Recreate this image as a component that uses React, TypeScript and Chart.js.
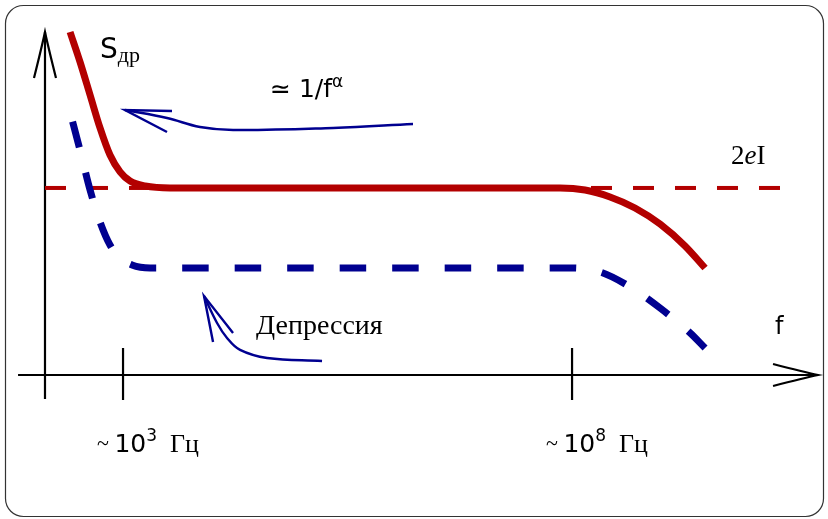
import React, { useEffect, useRef } from "react";
import { Chart, registerables } from "chart.js";

Chart.register(...registerables);

// x: log10(f / Hz), y: noise spectral density in units of the shot-noise level 2eI
const redCurveX = [2.41, 2.521, 2.633, 2.744, 2.855, 2.967, 3.078, 3.245, 3.523, 7.866, 8.145, 8.423, 8.701, 8.98, 9.258, 9.481];
const redCurveY = [1.834, 1.674, 1.497, 1.321, 1.176, 1.086, 1.037, 1.011, 1.0, 1.0, 0.989, 0.952, 0.893, 0.807, 0.69, 0.572];

const blueCurveX = [2.41, 2.521, 2.633, 2.744, 2.855, 2.967, 3.1, 3.301, 7.978, 8.312, 8.646, 8.98, 9.314, 9.481];
const blueCurveY = [1.406, 1.203, 0.989, 0.818, 0.695, 0.626, 0.588, 0.572, 0.572, 0.551, 0.471, 0.358, 0.225, 0.144];

const shotNoiseX = [2.131, 10.35];
const shotNoiseY = [1.0, 1.0];

const flickerArrowX = [6.229, 5.339, 4.225, 3.857, 3.49, 3.022];
const flickerArrowY = [1.342, 1.321, 1.31, 1.326, 1.374, 1.417];

const depressionArrowX = [5.216, 4.604, 4.303, 4.158, 4.047, 3.902];
const depressionArrowY = [0.075, 0.091, 0.134, 0.198, 0.278, 0.422];

const tickDecades = [3, 8];
const tickLabels = ["3", "8"];

const axisOriginX = 2.131;
const xAxisRange = [1.831, 10.739];
const yAxisRange = [-0.128, 1.834];

const RED = "#b30000";
const BLUE = "#000090";

const pts = (xs: number[], ys: number[]) => xs.map((x, i) => ({ x, y: ys[i] }));

type Run = { text: string; font: string; dy?: number };

function drawRuns(ctx: CanvasRenderingContext2D, x: number, y: number, runs: Run[]) {
  let cx = x;
  for (const r of runs) {
    ctx.font = r.font;
    ctx.fillText(r.text, cx, y + (r.dy || 0));
    cx += ctx.measureText(r.text).width;
  }
  return cx;
}

const SANS = '"DejaVu Sans", sans-serif';
const SERIF = '"Liberation Serif", serif';

const schematicPlugin = {
  id: "schematic",
  beforeDraw(chart: any) {
    const ctx = chart.ctx as CanvasRenderingContext2D;
    ctx.save();
    ctx.fillStyle = "#ffffff";
    ctx.fillRect(0, 0, chart.width, chart.height);
    ctx.strokeStyle = "#333";
    ctx.lineWidth = 1.2;
    ctx.beginPath();
    (ctx as any).roundRect(5.5, 5.5, 818, 511, 18);
    ctx.stroke();

    const xs = chart.scales.x;
    const ys = chart.scales.y;
    const X = (v: number) => xs.getPixelForValue(v);
    const Y = (v: number) => ys.getPixelForValue(v);

    ctx.strokeStyle = "#000";
    ctx.lineWidth = 2.2;
    ctx.lineCap = "butt";
    // y axis
    const ox = X(axisOriginX);
    const yTop = Y(yAxisRange[1]);
    ctx.beginPath();
    ctx.moveTo(ox, Y(yAxisRange[0]));
    ctx.lineTo(ox, yTop);
    ctx.stroke();
    ctx.beginPath();
    ctx.moveTo(ox - 11, yTop + 46);
    ctx.quadraticCurveTo(ox - 3, yTop + 14, ox, yTop);
    ctx.quadraticCurveTo(ox + 3, yTop + 14, ox + 11, yTop + 46);
    ctx.stroke();
    // x axis
    const y0 = Y(0);
    const xRight = X(xAxisRange[1]);
    ctx.beginPath();
    ctx.moveTo(X(xAxisRange[0]), y0);
    ctx.lineTo(xRight, y0);
    ctx.stroke();
    ctx.beginPath();
    ctx.moveTo(xRight - 45, y0 - 11);
    ctx.quadraticCurveTo(xRight - 14, y0 - 3, xRight, y0);
    ctx.quadraticCurveTo(xRight - 14, y0 + 3, xRight - 45, y0 + 11);
    ctx.stroke();
    // ticks
    tickDecades.forEach((d) => {
      const tx = X(d);
      ctx.beginPath();
      ctx.moveTo(tx, y0 - 27);
      ctx.lineTo(tx, y0 + 25);
      ctx.stroke();
    });
    ctx.restore();
  },
  afterDraw(chart: any) {
    const ctx = chart.ctx as CanvasRenderingContext2D;
    const xs = chart.scales.x;
    const ys = chart.scales.y;
    const X = (v: number) => xs.getPixelForValue(v);
    const Y = (v: number) => ys.getPixelForValue(v);
    ctx.save();
    // arrowheads of annotation arrows
    ctx.strokeStyle = BLUE;
    ctx.lineWidth = 2.4;
    const head = (tx: number, ty: number, a: number[], b: number[]) => {
      ctx.beginPath();
      ctx.moveTo(tx + a[0], ty + a[1]);
      ctx.lineTo(tx, ty);
      ctx.lineTo(tx + b[0], ty + b[1]);
      ctx.stroke();
    };
    const f1 = flickerArrowX.length - 1;
    head(X(flickerArrowX[f1]), Y(flickerArrowY[f1]), [47, 1], [42, 22]);
    const d1 = depressionArrowX.length - 1;
    head(X(depressionArrowX[d1]), Y(depressionArrowY[d1]), [9, 46], [29, 37]);

    ctx.fillStyle = "#000";
    ctx.textBaseline = "alphabetic";
    // S_dr
    drawRuns(ctx, X(2.744), Y(1.695), [
      { text: "S", font: `28px ${SANS}` },
      { text: "др", font: `22px ${SERIF}`, dy: 4 },
    ]);
    // ~ 1/f^alpha
    drawRuns(ctx, X(4.637), Y(1.487), [
      { text: "≃ 1/f", font: `25px ${SANS}` },
      { text: "α", font: `17px ${SANS}`, dy: -10 },
    ]);
    // 2eI
    drawRuns(ctx, X(9.771), Y(1.128), [
      { text: "2", font: `27px ${SERIF}` },
      { text: "e", font: `italic 27px ${SERIF}` },
      { text: "I", font: `27px ${SERIF}` },
    ]);
    // f
    drawRuns(ctx, X(10.261), Y(0.219), [{ text: "f", font: `24px ${SANS}` }]);
    // Депрессия
    drawRuns(ctx, X(4.481), Y(0.219), [{ text: "Депрессия", font: `28px ${SERIF}` }]);
    // tick labels
    tickDecades.forEach((d, i) => {
      drawRuns(ctx, X(d) - 26, Y(-0.412), [
        { text: "~ ", font: `22px ${SERIF}`, dy: -2 },
        { text: "10", font: `25px ${SANS}` },
        { text: tickLabels[i], font: `17px ${SANS}`, dy: -11 },
        { text: "  Гц", font: `26px ${SERIF}` },
      ]);
    });
    ctx.restore();
  },
};

export default function App() {
  const ref = useRef<HTMLCanvasElement>(null);
  useEffect(() => {
    if (!ref.current) return;
    const chart = new Chart(ref.current, {
      type: "scatter",
      data: {
        datasets: [
          {
            data: pts(shotNoiseX, shotNoiseY),
            showLine: true,
            borderColor: RED,
            borderWidth: 4,
            borderDash: [21, 21],
            pointRadius: 0,
            order: 3,
          },
          {
            data: pts(blueCurveX, blueCurveY),
            showLine: true,
            borderColor: BLUE,
            borderWidth: 7,
            borderDash: [26.5, 26],
            borderDashOffset: -10,
            cubicInterpolationMode: "monotone",
            pointRadius: 0,
            order: 2,
          },
          {
            data: pts(redCurveX, redCurveY),
            showLine: true,
            borderColor: RED,
            borderWidth: 7,
            cubicInterpolationMode: "monotone",
            pointRadius: 0,
            order: 1,
          },
          {
            data: pts(flickerArrowX, flickerArrowY),
            showLine: true,
            borderColor: BLUE,
            borderWidth: 2.4,
            tension: 0.4,
            pointRadius: 0,
          },
          {
            data: pts(depressionArrowX, depressionArrowY),
            showLine: true,
            borderColor: BLUE,
            borderWidth: 2.4,
            tension: 0.4,
            pointRadius: 0,
          },
        ],
      },
      options: {
        responsive: false,
        animation: false,
        layout: { padding: 0 },
        plugins: { legend: { display: false }, tooltip: { enabled: false } },
        scales: {
          x: { type: "linear", min: 1.63, max: 10.85, display: false },
          y: { type: "linear", min: -0.77, max: 2.005, display: false },
        },
      },
      plugins: [schematicPlugin],
    });
    return () => chart.destroy();
  }, []);
  return (
    <div style={{ position: "absolute", left: 0, top: 0, width: 828, height: 519 }}>
      <canvas ref={ref} width={828} height={519} />
    </div>
  );
}
